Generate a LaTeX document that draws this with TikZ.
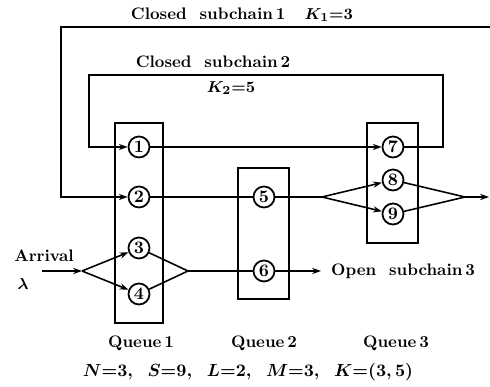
\documentclass[tikz,border=0pt]{standalone}
\usepackage{amsmath, amssymb}
\usepackage{tikz}
\usetikzlibrary{arrows.meta}

\tikzset{
    station/.style={circle, draw, line width=1pt, minimum size=0.42cm, inner sep=0pt, font=\fontsize{10}{12}\bfseries},
    qbox/.style={draw, line width=1pt},
    link/.style={line width=0.9pt},
    label/.style={font=\fontsize{9.5}{11}\bfseries\boldmath}
}

\begin{document}
\begin{tikzpicture}[>={Stealth[length=5pt, width=3.5pt]}]

    \useasboundingbox (0,0) rectangle (9.8,7.74);

    % ==========================================
    % Queue boxes
    % ==========================================
    \draw[qbox] (2.30,1.28) rectangle (3.26,5.28);
    \draw[qbox] (4.76,1.76) rectangle (5.78,4.38);
    \draw[qbox] (7.34,2.88) rectangle (8.36,5.28);

    % Stations
    \node[station] (n1) at (2.78,4.80) {1};
    \node[station] (n2) at (2.78,3.80) {2};
    \node[station] (n3) at (2.78,2.78) {3};
    \node[station] (n4) at (2.78,1.86) {4};
    \node[station] (n5) at (5.28,3.80) {5};
    \node[station] (n6) at (5.28,2.32) {6};
    \node[station] (n7) at (7.86,4.80) {7};
    \node[station] (n8) at (7.86,4.14) {8};
    \node[station] (n9) at (7.86,3.46) {9};

    % Branch and join points
    \coordinate (arr) at (0.84,2.32);
    \coordinate (s1) at (1.64,2.32);
    \coordinate (m1) at (3.76,2.32);
    \coordinate (s2) at (6.44,3.80);
    \coordinate (m2) at (9.30,3.80);
    \coordinate (out) at (9.78,3.80);
    \coordinate (open) at (6.42,2.32);
    \coordinate (c1r) at (9.80,7.20);
    \coordinate (c1l) at (1.22,7.20);
    \coordinate (c2r) at (8.86,6.24);
    \coordinate (c2l) at (1.78,6.24);

    % ==========================================
    % Closed subchain 1
    % ==========================================
    \draw[link, ->] (c1r) -- (c1l) |- (n2.west);
    \draw[link] (n2) -- (n5);
    \draw[link] (n5) -- (s2);
    \draw[link, ->] (s2) -- (n8);
    \draw[link, ->] (s2) -- (n9);
    \draw[link] (n8) -- (m2);
    \draw[link] (n9) -- (m2);
    \draw[link, ->] (m2) -- (out);

    % ==========================================
    % Closed subchain 2
    % ==========================================
    \draw[link, ->] (n1) -- (n7);
    \draw[link, ->] (n7.east) -| (c2r) -- (c2l) |- (n1.west);

    % ==========================================
    % Open subchain 3
    % ==========================================
    \draw[link, ->] (arr) -- (s1);
    \draw[link, ->] (s1) -- (n3);
    \draw[link, ->] (s1) -- (n4);
    \draw[link] (n3) -- (m1);
    \draw[link] (n4) -- (m1);
    \draw[link] (m1) -- (n6);
    \draw[link, ->] (n6) -- (open);

    % Labels
    \node[label, anchor=west] (opentext) at (6.50,2.32) {Open\ \ subchain\,3};
    \node[label] (arrtext) at (0.88,2.62) {Arrival};
    \node[label] (lam) at (0.46,2.06) {$\lambda$};
    \node[label] (sub1) at (4.84,7.44) {Closed\ \ subchain\,1\ \ \ $K_1{=}3$};
    \node[label] (sub2) at (4.26,6.50) {Closed\ \ subchain\,2};
    \node[label] (k2) at (4.62,5.98) {$K_2{=}5$};
    \node[label] (q1) at (2.82,0.88) {Queue\,1};
    \node[label] (q2) at (5.28,0.88) {Queue\,2};
    \node[label] (q3) at (7.92,0.88) {Queue\,3};
    \node[label, font=\fontsize{10}{12}\bfseries\boldmath] (params) at (4.96,0.30) {$N{=}3,\;\;S{=}9,\;\;L{=}2,\;\;M{=}3,\;\;K{=}(3,5)$};

\end{tikzpicture}
\end{document}
